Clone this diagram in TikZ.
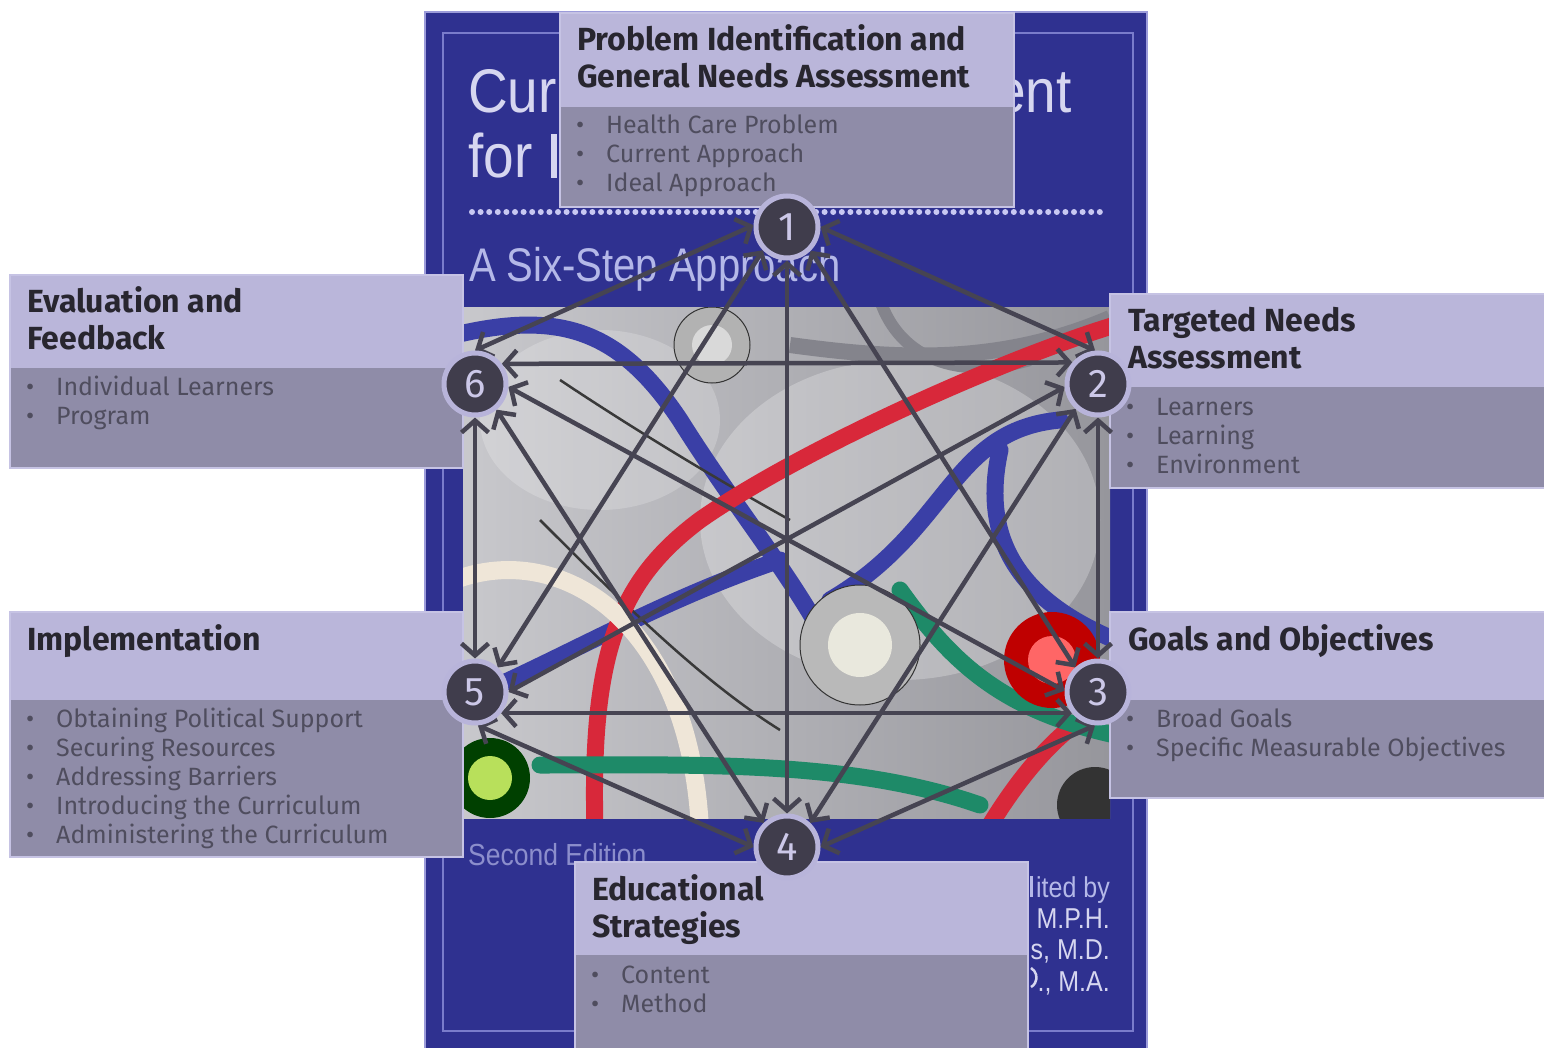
\documentclass[tikz,border=0pt]{standalone}
\usepackage{fontspec}
\setmainfont{Fira Sans}
\newfontfamily\coverfont{Liberation Sans}
\usetikzlibrary{arrows.meta}
\definecolor{cover}{HTML}{2F3190}
\definecolor{coveredge}{HTML}{9C9CDA}
\definecolor{coverline}{HTML}{7A7CCB}
\definecolor{covertext}{HTML}{D6D6F0}
\definecolor{coversub}{HTML}{B4B8E8}
\definecolor{coverdim}{HTML}{8C8ECC}
\definecolor{dotc}{HTML}{C8C8F2}
\definecolor{hdr}{HTML}{BAB6DA}
\definecolor{bodyc}{HTML}{8F8CA8}
\definecolor{boxline}{HTML}{C6C3E4}
\definecolor{ttl}{HTML}{28262F}
\definecolor{btxt}{HTML}{4F4D5E}
\definecolor{arrowc}{HTML}{464452}
\definecolor{nodefill}{HTML}{403D4C}
\definecolor{ring}{HTML}{B8B4DA}
\definecolor{digit}{HTML}{CCC8E8}
\definecolor{photoA}{HTML}{C8C8CC}
\definecolor{photoB}{HTML}{96969C}
\definecolor{tubeblue}{HTML}{3A3FA6}
\definecolor{tubered}{HTML}{D8283A}
\definecolor{tubegreen}{HTML}{1E8A68}
\definecolor{tubecream}{HTML}{EFE6D8}
\definecolor{tubegray}{HTML}{84848C}
\pgfdeclarelayer{back}
\pgfdeclarelayer{arrowlayer}
\pgfsetlayers{back,arrowlayer,main}
\tikzset{
  hdrbox/.style={fill=hdr},
  bodybox/.style={fill=bodyc},
  boxedge/.style={draw=boxline, line width=1.2pt},
  ttlnode/.style={anchor=base west, inner sep=0pt, text=ttl, font=\fontsize{32}{36}\selectfont\bfseries},
  bulnode/.style={anchor=base west, inner sep=0pt, text=btxt, font=\fontsize{25}{29}\selectfont},
  covernode/.style={inner sep=0pt, font=\coverfont},
  stepnode/.style={circle, fill=nodefill, draw=ring, line width=5pt, minimum size=62pt, inner sep=0pt, text=digit, font=\fontsize{40}{40}\selectfont},
  link/.style={arrowc, line width=4.5pt, {Straight Barb[length=12pt,width=27pt]}-{Straight Barb[length=12pt,width=27pt]}},
  tube/.style={line width=17pt, line cap=round}
}
\newcommand{\bul}[1]{\makebox[30pt][l]{•}#1}
\begin{document}
\begin{tikzpicture}[x=1pt,y=-1pt]
\useasboundingbox (0,0) rectangle (1544,1048);
\begin{pgfonlayer}{back}
\fill[white] (0,0) rectangle (1544,1048);
% book cover
\fill[cover, draw=coveredge, line width=1.5pt] (425,12) rectangle (1147,1052);
\draw[coverline, line width=2pt] (443,33) rectangle (1133,1031);
\node[covernode, anchor=base west, text=covertext] (ctA) at (468,113) {\scalebox{1}[1.12]{\fontsize{55}{60}\selectfont Cur}};
\node[covernode, anchor=base east, text=covertext] (ctA2) at (1072,113) {\scalebox{1}[1.12]{\fontsize{55}{60}\selectfont ent}};
\node[covernode, anchor=base west, text=covertext] (ctB) at (468,178) {\scalebox{1}[1.12]{\fontsize{55}{60}\selectfont for}};
\fill[covertext] (551,134) rectangle (557,178);
\draw[dotc, line width=6pt, line cap=round, dash pattern=on 0pt off 8.6pt] (472,212) -- (1106,212);
\node[covernode, anchor=base west, text=coversub] (ctC) at (469,282) {\scalebox{1}[1.18]{\fontsize{40}{44}\selectfont A Six-Step Approach}};
\node[covernode, anchor=base west, text=coverdim] (ctD) at (468,865) {\scalebox{1}[1.15]{\fontsize{26.5}{30}\selectfont Second Edition}};
\fill[coversub] (1030,876) rectangle (1033,897);
\node[covernode, anchor=base east, text=coversub] (ctE) at (1110,897) {\scalebox{1}[1.15]{\fontsize{25}{28}\selectfont ited by}};
\node[covernode, anchor=base east, text=covertext] (ctF) at (1110,928) {\scalebox{1}[1.15]{\fontsize{25}{28}\selectfont M.P.H.}};
\node[covernode, anchor=base east, text=covertext] (ctG) at (1110,959) {\scalebox{1}[1.15]{\fontsize{25}{28}\selectfont s, M.D.}};
\node[covernode, anchor=base east, text=covertext] (ctH) at (1110,991) {\scalebox{1}[1.15]{\fontsize{25}{28}\selectfont ., M.A.}};
\draw[covertext, line width=2.5pt] (1031,968) arc[start angle=60, end angle=-60, radius=11pt];
% photo
\begin{scope}
\clip (463,308) rectangle (1110,818);
\shade[left color=photoA, right color=photoB] (463,308) rectangle (1110,818);
\fill[white, opacity=0.25] (900,520) ellipse (200pt and 160pt);
\fill[white, opacity=0.2] (600,420) ellipse (120pt and 90pt);
\draw[tubegray, line width=16pt] (790,345) .. controls (900,360) and (1000,365) .. (1110,318);
\draw[tubegray, line width=12pt] (880,300) .. controls (900,360) and (960,380) .. (1030,360);
\fill[gray!60, draw=gray!40!black, line width=1pt] (712,345) circle (38pt);
\fill[gray!30] (712,345) circle (20pt);
\draw[tubeblue, tube] (455,335) .. controls (560,310) and (620,330) .. (680,420) .. controls (730,500) and (780,560) .. (820,630);
\draw[tubeblue, tube] (830,600) .. controls (950,530) and (950,430) .. (1060,420);
\draw[tubeblue, tube] (1000,450) .. controls (980,540) and (1020,600) .. (1115,640);
\draw[tubeblue, tube] (465,700) .. controls (560,660) and (660,600) .. (780,560);
\draw[gray!45!black, line width=2.5pt] (540,520) .. controls (620,600) and (700,680) .. (780,730);
\draw[gray!45!black, line width=2.5pt] (560,380) .. controls (620,420) and (700,470) .. (790,520);
\draw[tubered, tube] (1115,325) .. controls (1000,360) and (800,450) .. (700,520) .. controls (620,580) and (590,650) .. (595,830);
\draw[tubered, tube] (990,825) .. controls (1030,760) and (1070,720) .. (1115,700);
\draw[tubecream, line width=18pt] (455,580) .. controls (560,540) and (690,620) .. (700,830);
\draw[tubegreen, tube] (540,765) .. controls (700,765) and (850,760) .. (980,805);
\draw[tubegreen, tube] (900,590) .. controls (950,660) and (1000,710) .. (1115,735);
\fill[gray!55, draw=gray!40!black, line width=1pt] (860,645) circle (60pt);
\fill[yellow!20!gray!25] (860,645) circle (32pt);
\fill[red!75!black] (1052,660) circle (48pt);
\fill[red!60] (1052,660) circle (24pt);
\fill[green!25!black] (490,778) circle (40pt);
\fill[yellow!60!green!70] (490,778) circle (22pt);
\fill[black!80] (1095,805) circle (38pt);
\end{scope}
% boxes
\fill[hdrbox] (560,13) rectangle (1014,107);
\fill[bodybox] (560,107) rectangle (1014,207);
\draw[boxedge] (560,13) rectangle (1014,207);
\fill[hdrbox] (10,275) rectangle (463,368);
\fill[bodybox] (10,368) rectangle (463,468);
\draw[boxedge] (10,275) rectangle (463,468);
\fill[hdrbox] (1110,294) rectangle (1544,387);
\fill[bodybox] (1110,387) rectangle (1544,488);
\draw[boxedge] (1110,294) rectangle (1546,488);
\fill[hdrbox] (10,612) rectangle (463,700);
\fill[bodybox] (10,700) rectangle (463,857);
\draw[boxedge] (10,612) rectangle (463,857);
\fill[hdrbox] (1110,612) rectangle (1544,700);
\fill[bodybox] (1110,700) rectangle (1544,798);
\draw[boxedge] (1110,612) rectangle (1546,798);
\fill[hdrbox] (575,862) rectangle (1028,955);
\fill[bodybox] (575,955) rectangle (1028,1050);
\draw[boxedge] (575,862) rectangle (1028,1050);
% box texts
\node[ttlnode] (t1a) at (577,51) {Problem Identification and};
\node[ttlnode] (t1b) at (577,88) {General Needs Assessment};
\node[bulnode] (b1a) at (576,134) {\bul{Health Care Problem}};
\node[bulnode] (b1b) at (576,163) {\bul{Current Approach}};
\node[bulnode] (b1c) at (576,192) {\bul{Ideal Approach}};
\node[ttlnode] (t6a) at (27,313) {Evaluation and};
\node[ttlnode] (t6b) at (27,350) {Feedback};
\node[bulnode] (b6a) at (26,395) {\bul{Individual Learners}};
\node[bulnode] (b6b) at (26,424) {\bul{Program}};
\node[ttlnode] (t2a) at (1128,332) {Targeted Needs};
\node[ttlnode] (t2b) at (1128,369) {Assessment};
\node[bulnode] (b2a) at (1126,415) {\bul{Learners}};
\node[bulnode] (b2b) at (1126,444) {\bul{Learning}};
\node[bulnode] (b2c) at (1126,473) {\bul{Environment}};
\node[ttlnode] (t5a) at (27,650) {Implementation};
\node[bulnode] (b5a) at (26,727) {\bul{Obtaining Political Support}};
\node[bulnode] (b5b) at (26,756) {\bul{Securing Resources}};
\node[bulnode] (b5c) at (26,785) {\bul{Addressing Barriers}};
\node[bulnode] (b5d) at (26,814) {\bul{Introducing the Curriculum}};
\node[bulnode] (b5e) at (26,843) {\bul{Administering the Curriculum}};
\node[ttlnode] (t3a) at (1128,650) {Goals and Objectives};
\node[bulnode] (b3a) at (1126,727) {\bul{Broad Goals}};
\node[bulnode] (b3b) at (1126,756) {\bul{Specific Measurable Objectives}};
\node[ttlnode] (t4a) at (592,900) {Educational};
\node[ttlnode] (t4b) at (592,937) {Strategies};
\node[bulnode] (b4a) at (591,983) {\bul{Content}};
\node[bulnode] (b4b) at (591,1012) {\bul{Method}};
\end{pgfonlayer}
% step nodes
\node[stepnode] (n1) at (787,227) {1};
\node[stepnode] (n2) at (1098,384) {2};
\node[stepnode] (n3) at (1098,692) {3};
\node[stepnode] (n4) at (787,847) {4};
\node[stepnode] (n5) at (475,692) {5};
\node[stepnode] (n6) at (475,384) {6};
\begin{pgfonlayer}{arrowlayer}
\draw[link] (n1.0) -- (n2.95);
\draw[link] (n1.177) -- (n6.90);
\draw[link] (n1.224) -- (n5.47);
\draw[link] (n1.315) -- (n3.133);
\draw[link] (n1.270) -- (n4.90);
\draw[link] (n2.140) -- (n6.37);
\draw[link] (n2.185) -- (n5.0);
\draw[link] (n2.228) -- (n4.46);
\draw[link] (n2.270) -- (n3.90);
\draw[link] (n3.178) -- (n6.355);
\draw[link] (n3.219) -- (n5.321);
\draw[link] (n3.265) -- (n4.0);
\draw[link] (n4.134) -- (n6.310);
\draw[link] (n4.180) -- (n5.275);
\draw[link] (n5.90) -- (n6.270);
\end{pgfonlayer}
\end{tikzpicture}
\end{document}
